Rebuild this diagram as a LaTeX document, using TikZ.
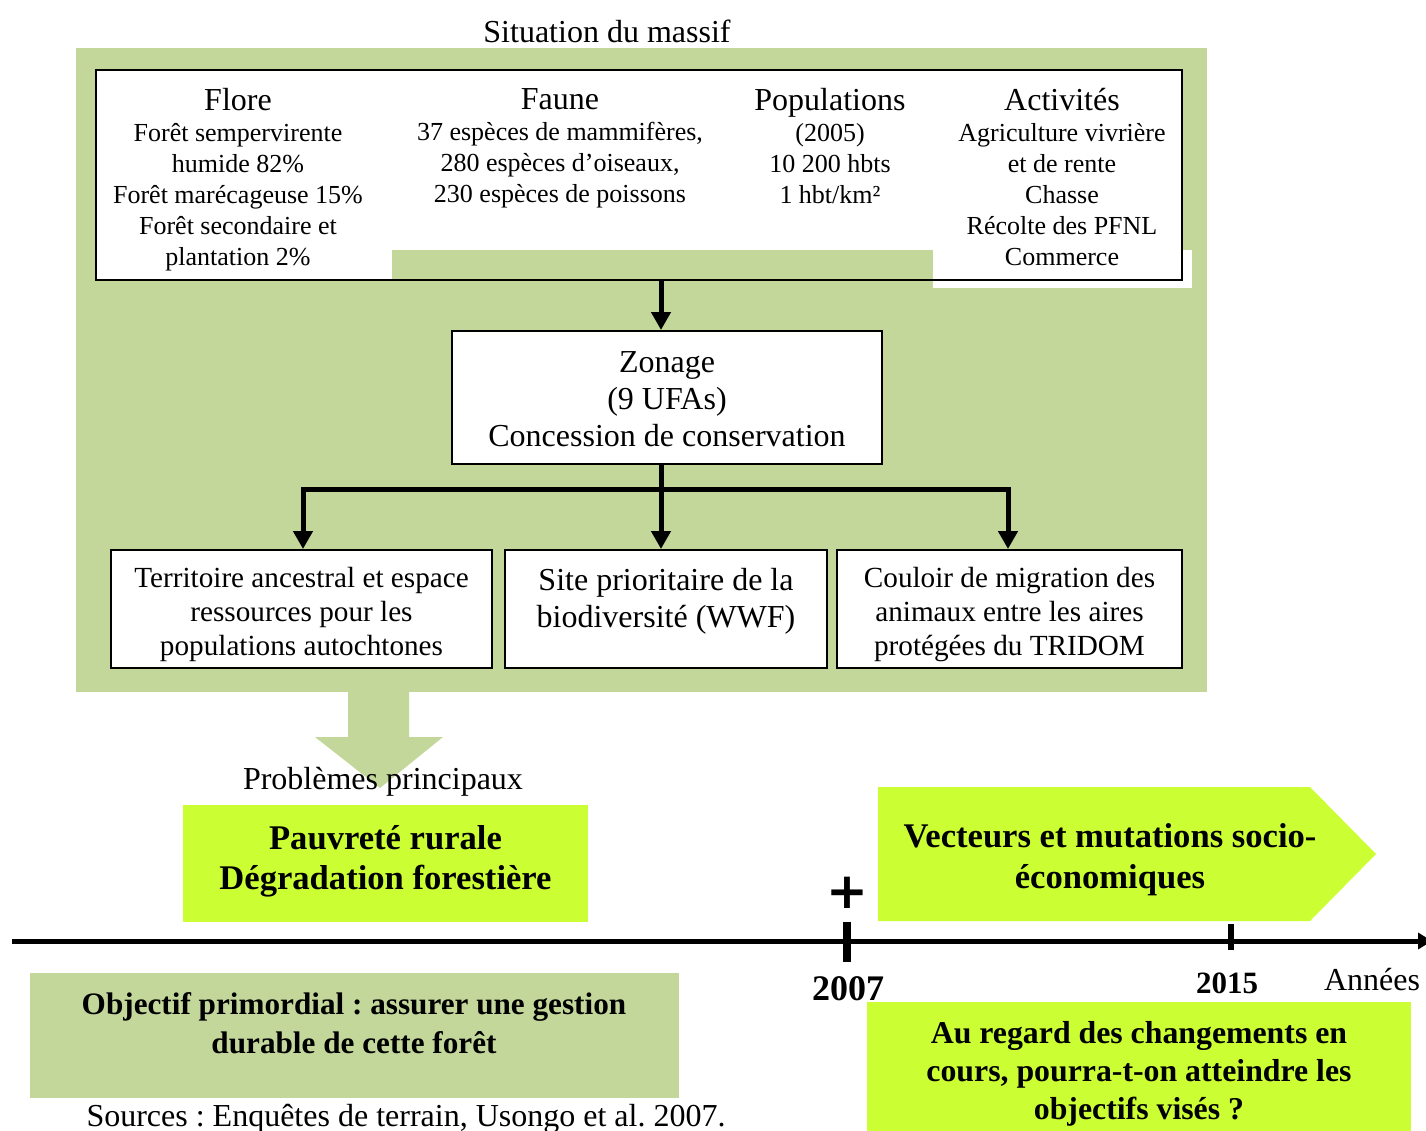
\documentclass[tikz,border=0pt]{standalone}
\usepackage{fontspec}
\setmainfont{Liberation Serif}
\newfontfamily\plusfont{DejaVu Sans}
\usetikzlibrary{arrows.meta,positioning}
\definecolor{massifGreen}{RGB}{196,215,155}
\definecolor{alertLime}{RGB}{204,255,51}
\newcommand{\fsz}[2]{\fontsize{#1}{#2}\selectfont}
\frenchspacing

\begin{document}
\begin{tikzpicture}[x=0.5pt,y=-0.5pt,
  frame/.style={
    draw,
    line width=1pt,
    fill=white,
    inner sep=0pt,
    align=center
  },
  label/.style={inner sep=0pt, align=center},
  column/.style={anchor=north, inner sep=0pt, align=center, font=\fsz{13}{15.5}},
  link/.style={line width=2.5pt, -{Triangle[width=9.5pt,length=9pt]}},
  limebox/.style={fill=alertLime, inner sep=0pt},
  olivebox/.style={fill=massifGreen, inner sep=0pt},
  caption/.style={inner sep=0pt, font=\fsz{16}{18}},
  year/.style={inner sep=0pt, font=\bfseries\fsz{18}{18}}
]
  \useasboundingbox (0,0) rectangle (1426,1131);
  \fill[massifGreen] (76,48) rectangle (1207,692);
  \node[caption] (title) at (607,31) {Situation du massif};

  \fill[white] (933,250) rectangle (1192,288);
  \node[frame,minimum width=543pt,minimum height=105pt] (situ) at (639,175) {};
  \fill[massifGreen] (392,250) rectangle (933,279.2);

  \node[column] (flore) at (238,88) {{\fsz{16}{15.5}Flore}\\[0pt]
    Forêt sempervirente\\humide 82\%\\Forêt marécageuse 15\%\\Forêt secondaire et\\plantation 2\%};
  \node[column] (faune) at (560,88) {{\fsz{16}{15.5}Faune}\\[0pt]
    37 espèces de mammifères,\\280 espèces d’oiseaux,\\230 espèces de poissons};
  \node[column] (pop) at (830,88) {{\fsz{16}{15.5}Populations}\\[0pt]
    (2005)\\10 200 hbts\\1 hbt/km²};
  \node[column] (activ) at (1062,88) {{\fsz{16}{15.5}Activités}\\[0pt]
    Agriculture vivrière\\et de rente\\Chasse\\Récolte des PFNL\\Commerce};

  \node[frame,minimum width=215pt,minimum height=66.5pt] (zonage) at (667,397.5) {};
  \node[label,font=\fsz{16}{18.5}] (zonagetxt) at (667,399.5)
    {Zonage\\(9 UFAs)\\Concession de conservation};

  \node[frame,minimum width=190.5pt,minimum height=59pt] (terr) at (301.5,609) {};
  \node[label,font=\fsz{14.6}{17}] (terrtxt) at (301.5,614.5)
    {Territoire ancestral et espace\\ressources pour les\\populations autochtones};
  \node[frame,minimum width=161pt,minimum height=59pt] (site) at (666,609) {};
  \node[label,font=\fsz{16}{18.5}] (sitetxt) at (666,601)
    {Site prioritaire de la\\biodiversité (WWF)};
  \node[frame,minimum width=172.5pt,minimum height=59pt] (couloir) at (1009.5,609) {};
  \node[label,font=\fsz{14.6}{17}] (couloirtxt) at (1009.5,614.5)
    {Couloir de migration des\\animaux entre les aires\\protégées du TRIDOM};

  \coordinate (bus) at (661,489);
  \coordinate (busL) at (303,489);
  \coordinate (busR) at (1008,489);
  \draw[link] (situ.south -| bus) -- (zonage.north -| bus);
  \draw[link] (zonage.south -| bus) -- (site.north -| bus);
  \draw[link] (bus) -- (busL) -- (busL |- terr.north);
  \draw[link] (bus) -- (busR) -- (busR |- couloir.north);

  \fill[massifGreen] (348,692) -- (409,692) -- (409,737) -- (443,737) -- (380,788)
    -- (315,737) -- (348,737) -- cycle;
  \node[caption] (probl) at (383,782) {Problèmes principaux};

  \node[limebox,minimum width=202.5pt,minimum height=58.5pt] (pauv) at (385.5,863.5) {};
  \node[label,font=\bfseries\fsz{17.3}{20}] (pauvtxt) at (385.5,861.5)
    {Pauvreté rurale\\Dégradation forestière};

  \fill[alertLime] (878,787) -- (1310,787) -- (1376,854) -- (1310,921) -- (878,921) -- cycle;
  \node[label,font=\bfseries\fsz{17.3}{20.5}] (vect) at (1110,859.5)
    {Vecteurs et mutations socio-\\économiques};

  \coordinate (t0) at (12,941);
  \coordinate (tend) at (1432,941);
  \draw[line width=2.5pt,-{Triangle[width=8pt,length=7pt]}] (t0) -- (tend);
  \draw[line width=4pt] (847,922) -- (847,962);
  \draw[line width=3pt] (1231,924) -- (1231,950);
  \node[inner sep=0pt,font=\plusfont\bfseries\fsz{25}{25}] (plus) at (847,893) {+};
  \node[year] (y2007) at (848,989) {2007};
  \node[year,font=\bfseries\fsz{15.5}{15.5}] (y2015) at (1227,983) {2015};
  \node[caption] (annees) at (1372,980) {Années};

  \node[olivebox,minimum width=324.5pt,minimum height=62.5pt] (objbox) at (354.5,1035.5) {};
  \node[label,font=\bfseries\fsz{15.6}{19.5}] (objtxt) at (354,1023)
    {Objectif primordial : assurer une gestion\\durable de cette forêt};
  \node[caption] (sources) at (406,1119) {Sources : Enquêtes de terrain, Usongo et al. 2007.};

  \node[limebox,minimum width=272pt,minimum height=66.5pt] (regard) at (1139,1068.5) {};
  \node[label,font=\bfseries\fsz{15.9}{19}] (regardtxt) at (1139,1074)
    {Au regard des changements en\\cours, pourra-t-on atteindre les\\objectifs visés ?};
\end{tikzpicture}
\end{document}
